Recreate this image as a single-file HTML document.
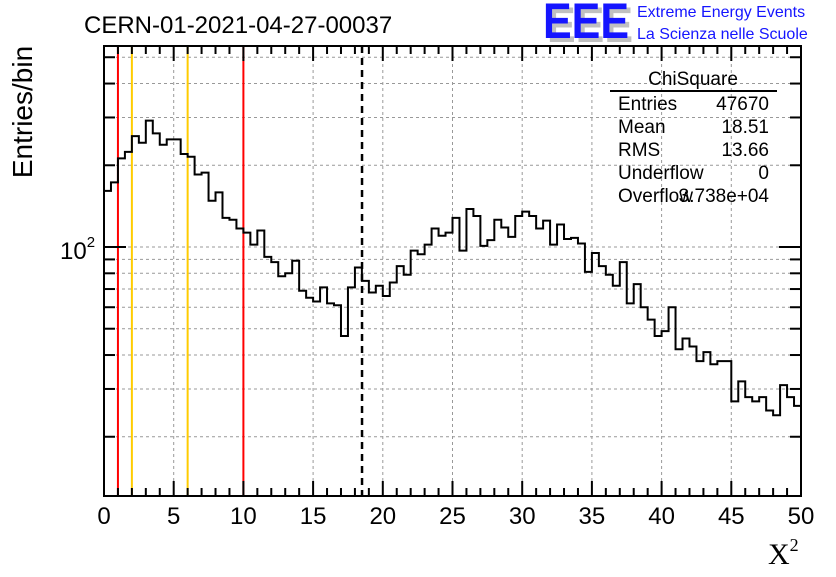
<!DOCTYPE html>
<html><head><meta charset="utf-8">
<style>
html,body{margin:0;padding:0;background:#fff;}
body{width:836px;height:572px;overflow:hidden;}
svg text{font-family:"Liberation Sans",sans-serif;}
</style></head>
<body>
<svg id="chart" width="836" height="572" viewBox="0 0 836 572" xmlns="http://www.w3.org/2000/svg">
<rect x="0" y="0" width="836" height="572" fill="#fff"/>
<text x="84" y="33" font-size="24">CERN-01-2021-04-27-00037</text>
<g>
<text x="547" y="42" font-size="50" font-weight="bold" fill="#c0c0c0" textLength="86" lengthAdjust="spacingAndGlyphs">EEE</text>
<text x="543" y="38" font-size="50" font-weight="bold" fill="#1515ff" textLength="86" lengthAdjust="spacingAndGlyphs">EEE</text>
<text x="637" y="17" font-size="16" fill="#1515ff">Extreme Energy Events</text>
<text x="637" y="39" font-size="16" fill="#1515ff">La Scienza nelle Scuole</text>
</g>
<g id="grid"></g>
<g id="lines"></g>
<path id="hist" fill="none" stroke="#000" stroke-width="2"/>
<g id="axes"></g>
<g font-size="19">
<text x="693" y="85" text-anchor="middle">ChiSquare</text>
<line x1="610" y1="91" x2="777" y2="91" stroke="#000" stroke-width="2"/>
<text x="618" y="110">Entries</text><text x="769" y="110" text-anchor="end">47670</text>
<text x="618" y="133">Mean</text><text x="769" y="133" text-anchor="end">18.51</text>
<text x="618" y="156">RMS</text><text x="769" y="156" text-anchor="end">13.66</text>
<text x="618" y="179">Underflow</text><text x="769" y="179" text-anchor="end">0</text>
<text x="618" y="202">Overflow</text><text x="769" y="202" text-anchor="end">3.738e+04</text>
</g>
<text transform="translate(32,112) rotate(-90)" text-anchor="middle" font-size="28">Entries/bin</text>
<text x="768" y="564" font-size="30" style="font-family:'Liberation Serif',serif">X<tspan font-size="18" dy="-13">2</tspan></text>
</svg>
<script>
const binValues = [161,173,212,224,256,242,292,262,238,249,249,220,215,185,188,148,159,128,126,117,113,102,115,92,88,78,80,89,69,65,63,71,62,61,47,71,84,75,68,72,66,74,85,79,97,94,102,117,110,113,128,97,138,130,101,106,126,118,109,130,135,130,117,125,102,121,107,108,103,81,95,85,79,72,88,62,73,60,54,47,49,60,42,46,43,38,41,37,38,38,27,32,28,27,28,25,24,31,28,26];
const binLow = 0, binWidth = 0.5;
const xTicks = [0,5,10,15,20,25,30,35,40,45,50];
const yMinorTicks = [20,30,40,50,60,70,80,90,200,300,400,500];
const yMajorTicks = [100];
const redLines = [1,10];
const yellowLines = [2,6];
const meanLine = [18.51];

const X0=104,X1=801,Y0=496,Y1=46;
const xmin=0,xmax=50,lymin=Math.log10(12.1),lymax=Math.log10(550);
const sx=v=>X0+(v-xmin)/(xmax-xmin)*(X1-X0);
const sy=v=>Y0-(Math.log10(v)-lymin)/(lymax-lymin)*(Y0-Y1);
const NS="http://www.w3.org/2000/svg";
function mk(parent,tag,attrs){const e=document.createElementNS(NS,tag);for(const k in attrs)e.setAttribute(k,attrs[k]);parent.appendChild(e);return e;}
const grid=document.getElementById('grid'),axes=document.getElementById('axes'),lines=document.getElementById('lines');
xTicks.slice(1,-1).forEach(t=>{const l=mk(grid,'line',{x1:sx(t),x2:sx(t),y1:Y1,y2:Y0,stroke:'#999','stroke-dasharray':'3,3','stroke-width':1});

});
yMinorTicks.concat(yMajorTicks).forEach(t=>{const l=mk(grid,'line',{x1:X0,x2:X1,y1:sy(t),y2:sy(t),stroke:'#999','stroke-dasharray':'3,3','stroke-width':1});

});
redLines.forEach(v=>{const l=mk(lines,'line',{x1:sx(v),x2:sx(v),y1:Y1,y2:Y0,stroke:'#ff0000','stroke-width':2});

});
yellowLines.forEach(v=>{const l=mk(lines,'line',{x1:sx(v),x2:sx(v),y1:Y1,y2:Y0,stroke:'#ffcc00','stroke-width':2});

});
meanLine.forEach(v=>{const l=mk(lines,'line',{x1:sx(v),x2:sx(v),y1:Y1,y2:Y0,stroke:'#000','stroke-width':2.5,'stroke-dasharray':'7,5'});

});
let d='';
binValues.forEach((v,i)=>{const xa=sx(binLow+i*binWidth),xb=sx(binLow+(i+1)*binWidth),y=sy(v);
d+=(i===0?'M':'L')+xa.toFixed(2)+','+y.toFixed(2)+'L'+xb.toFixed(2)+','+y.toFixed(2);});
document.getElementById('hist').setAttribute('d',d);
const fr=mk(axes,'rect',{x:X0,y:Y1,width:X1-X0,height:Y0-Y1,fill:'none',stroke:'#000','stroke-width':2});


for(let v=xmin;v<=xmax;v+=1){const maj=v%5===0;const L=maj?15:8;
mk(axes,'line',{x1:sx(v),x2:sx(v),y1:Y0,y2:Y0-L,stroke:'#000','stroke-width':2});
mk(axes,'line',{x1:sx(v),x2:sx(v),y1:Y1,y2:Y1+L,stroke:'#000','stroke-width':2});}
xTicks.forEach(t=>{const tx=mk(axes,'text',{x:sx(t),y:524,'text-anchor':'middle','font-size':24});tx.textContent=t;

});
yMinorTicks.forEach(t=>{mk(axes,'line',{x1:X0,x2:X0+11,y1:sy(t),y2:sy(t),stroke:'#000','stroke-width':2});
mk(axes,'line',{x1:X1,x2:X1-11,y1:sy(t),y2:sy(t),stroke:'#000','stroke-width':2});});
yMajorTicks.forEach(t=>{mk(axes,'line',{x1:X0,x2:X0+22,y1:sy(t),y2:sy(t),stroke:'#000','stroke-width':2});
mk(axes,'line',{x1:X1,x2:X1-22,y1:sy(t),y2:sy(t),stroke:'#000','stroke-width':2});
const tx=mk(axes,'text',{x:60,y:sy(t)+12,'font-size':24});


tx.innerHTML='10<tspan font-size="15" dy="-12">'+Math.round(Math.log10(t))+'</tspan>';});
</script>
</body></html>
